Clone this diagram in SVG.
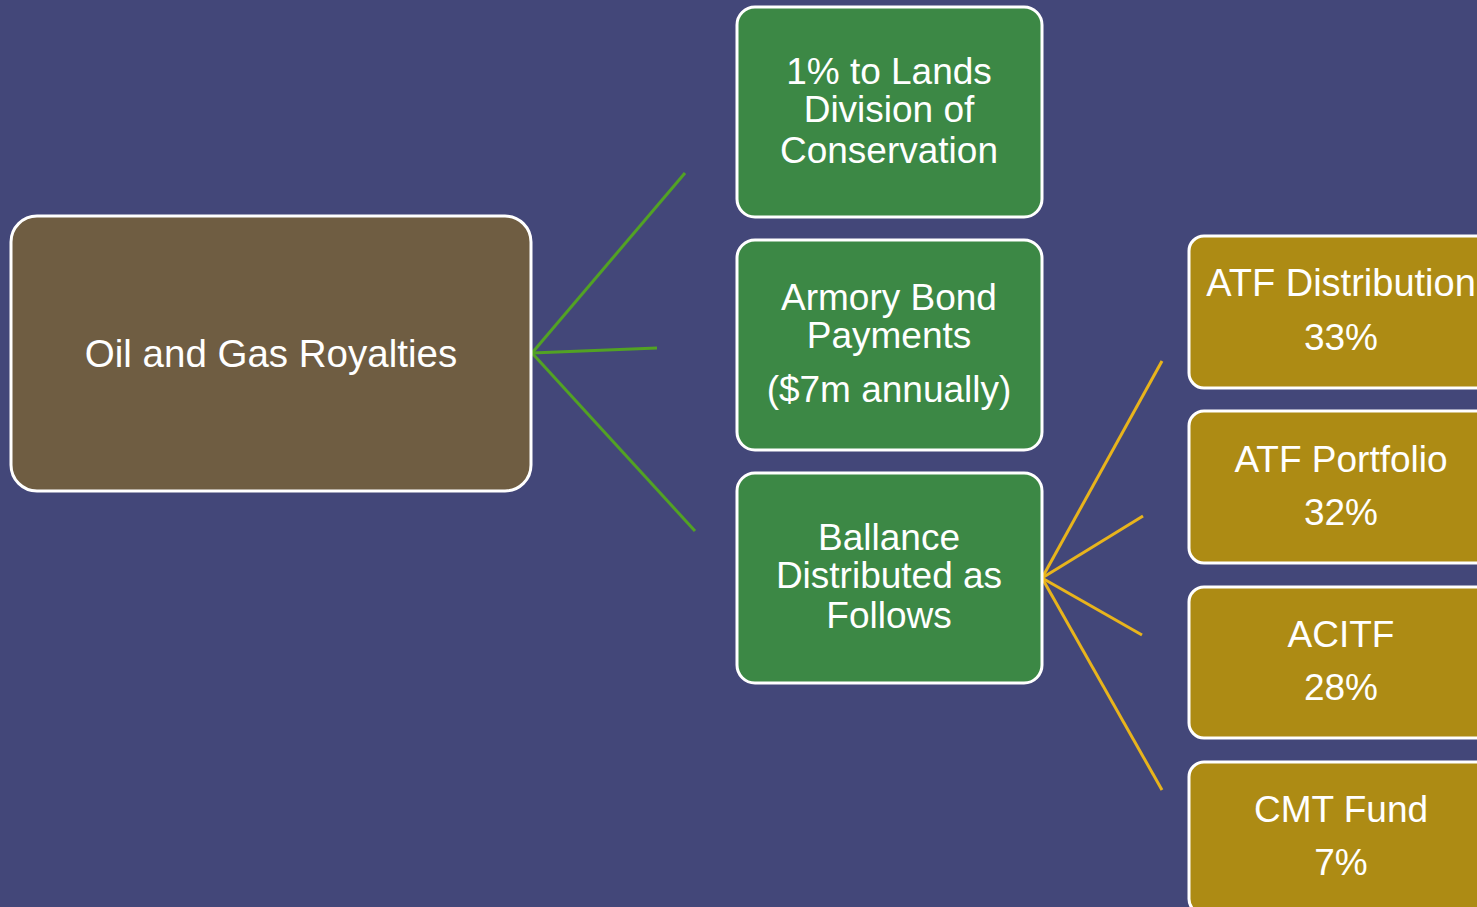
<svg xmlns="http://www.w3.org/2000/svg" width="1477" height="907" viewBox="0 0 1477 907">
<style>
.bg{fill:#434779}
.box{stroke:#ffffff;stroke-width:3}
.brown{fill:#6F5D42}
.green{fill:#3C8845}
.gold{fill:#AD8B14}
.t{font-family:"Liberation Sans",Arial,sans-serif;font-size:37px;fill:#ffffff;text-anchor:middle}
.big{font-size:38.5px}
.wide{font-size:38px}
.lg{stroke:#52A224;stroke-width:3;fill:none}
.ly{stroke:#E8B41C;stroke-width:3;fill:none}
</style>
<rect class="bg" x="0" y="0" width="1477" height="907"/>
<g id="connectors">
<line class="lg" x1="532" y1="353" x2="685" y2="173"/>
<line class="lg" x1="532" y1="353" x2="657" y2="348"/>
<line class="lg" x1="532" y1="353" x2="695" y2="531"/>
<line class="ly" x1="1042" y1="578" x2="1162" y2="361"/>
<line class="ly" x1="1042" y1="578" x2="1143" y2="516"/>
<line class="ly" x1="1042" y1="578" x2="1142" y2="635"/>
<line class="ly" x1="1042" y1="578" x2="1162" y2="790"/>
</g>
<g id="oil">
<rect class="box brown" x="11" y="216" width="520" height="275" rx="26"/>
<text class="t big" x="271" y="367">Oil and Gas Royalties</text>
</g>
<g id="lands">
<rect class="box green" x="737" y="7" width="305" height="210" rx="18"/>
<text class="t" x="889" y="84">1% to Lands</text>
<text class="t" x="889" y="122">Division of</text>
<text class="t" x="889" y="163">Conservation</text>
</g>
<g id="armory">
<rect class="box green" x="737" y="240" width="305" height="210" rx="18"/>
<text class="t" x="889" y="310">Armory Bond</text>
<text class="t" x="889" y="348">Payments</text>
<text class="t" x="889" y="402">($7m annually)</text>
</g>
<g id="balance">
<rect class="box green" x="737" y="473" width="305" height="210" rx="18"/>
<text class="t" x="889" y="550">Ballance</text>
<text class="t" x="889" y="588">Distributed as</text>
<text class="t" x="889" y="628">Follows</text>
</g>
<g id="atfdist">
<rect class="box gold" x="1189" y="236" width="305" height="152" rx="15"/>
<text class="t wide" x="1341" y="296">ATF Distribution</text>
<text class="t" x="1341" y="350">33%</text>
</g>
<g id="atfport">
<rect class="box gold" x="1189" y="411" width="305" height="152" rx="15"/>
<text class="t" x="1341" y="472">ATF Portfolio</text>
<text class="t" x="1341" y="525">32%</text>
</g>
<g id="acitf">
<rect class="box gold" x="1189" y="587" width="305" height="151" rx="15"/>
<text class="t" x="1341" y="647">ACITF</text>
<text class="t" x="1341" y="700">28%</text>
</g>
<g id="cmt">
<rect class="box gold" x="1189" y="762" width="305" height="152" rx="15"/>
<text class="t" x="1341" y="822">CMT Fund</text>
<text class="t" x="1341" y="875">7%</text>
</g>
</svg>
